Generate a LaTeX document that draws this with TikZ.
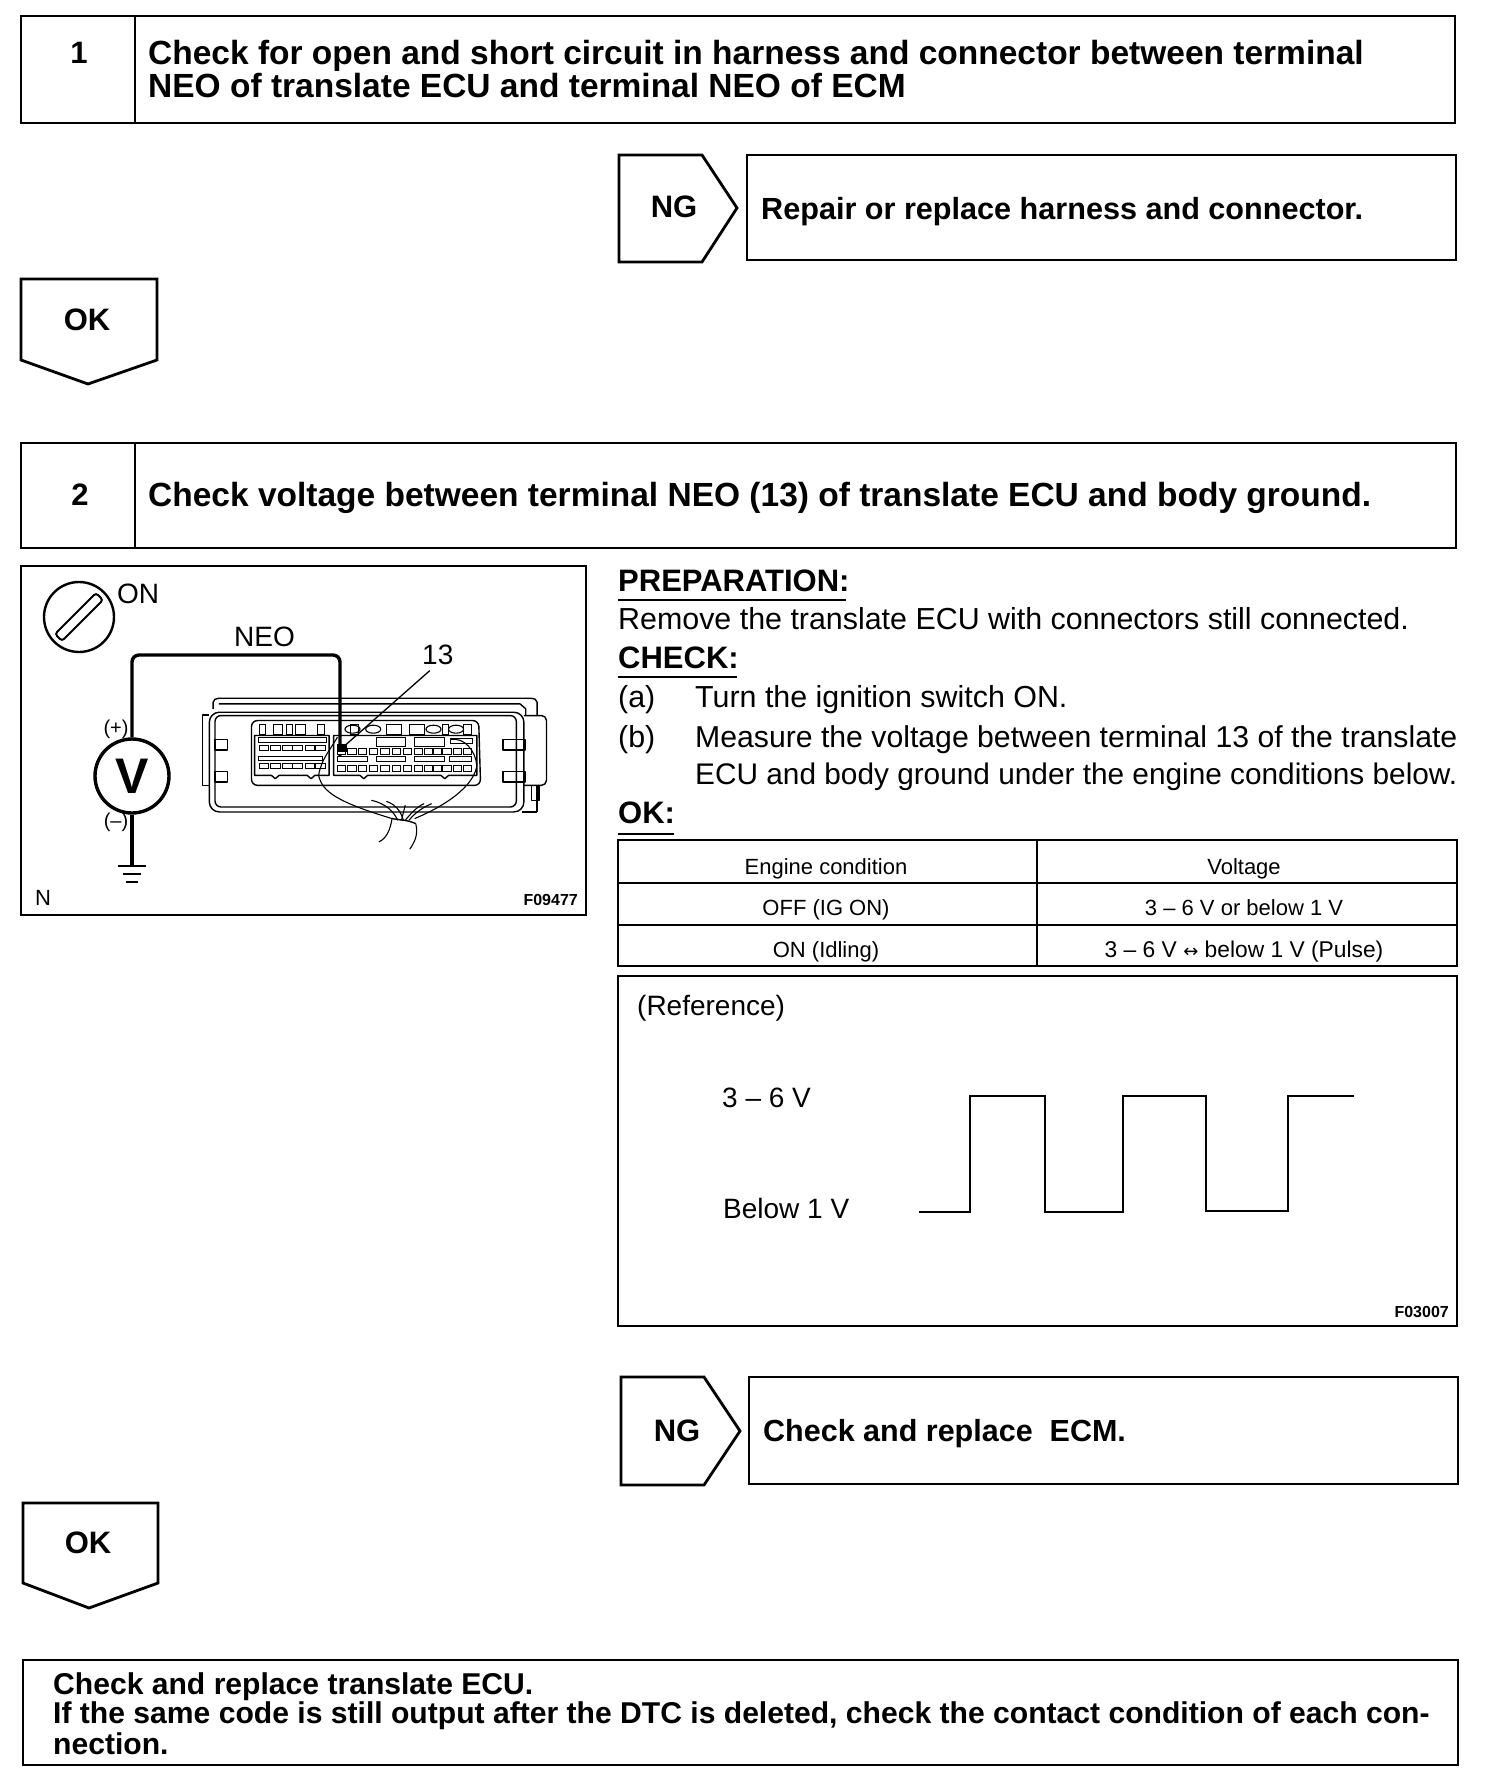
\documentclass[tikz,border=0pt]{standalone}
\usepackage{fontspec}
\setmainfont{Liberation Sans}
\newcommand{\bfs}{\fontsize{31}{31}\selectfont\bfseries}
\newcommand{\hds}{\fontsize{33.5}{33.5}\selectfont\bfseries}
\newcommand{\rgs}{\fontsize{30.4}{30.4}\selectfont}
\newcommand{\sms}{\fontsize{22}{22}\selectfont}
\newcommand{\mds}{\fontsize{28}{28}\selectfont}
\tikzset{
  bx/.style={draw=black,line width=2.8pt,line join=miter},
  bt/.style={anchor=base west,inner sep=0pt,font=\bfs},
  hd/.style={anchor=base west,inner sep=0pt,font=\hds},
  rt/.style={anchor=base west,inner sep=0pt,font=\rgs},
  md/.style={anchor=base west,inner sep=0pt,font=\mds},
  st/.style={anchor=base,inner sep=0pt,font=\sms},
  ul/.style={draw=black,line width=2pt},
  ecu/.style={draw=black,line width=1.4pt,line join=round},
  slot/.style={draw=black,line width=1pt,fill=white},
  wire/.style={draw=black,line width=3.4pt,rounded corners=7pt},
  thin wire/.style={draw=black,line width=1.1pt},
}
\begin{document}
\begin{tikzpicture}[x=1pt,y=-1pt]
\useasboundingbox[fill=white] (0,0) rectangle (1504,1790);
% box 1
\draw[bx] (21,16) rectangle (1455,123);
\draw[bx] (135,16) -- (135,123);
\node[bt,anchor=base] (n1) at (79,64) {1};
\node[hd] (t1a) at (148,65) {Check for open and short circuit in harness and connector between terminal};
\node[hd] (t1b) at (148,98) {NEO of translate ECU and terminal NEO of ECM};
% NG 1
\draw[bx] (619,155) -- (702,155) -- (737,208) -- (702,262) -- (619,262) -- cycle;
\node[bt,anchor=base] (ng1) at (674,218) {NG};
\draw[bx] (747,155) rectangle (1456,260);
\node[bt,font=\fontsize{30.6}{30.6}\selectfont\bfseries] (r1) at (761,219) {Repair or replace harness and connector.};
% OK 1
\draw[bx] (21,279) -- (157,279) -- (157,360) -- (88,384) -- (21,360) -- cycle;
\node[bt,anchor=base] (ok1) at (87,330) {OK};
% box 2
\draw[bx] (21,443) rectangle (1456,548);
\draw[bx] (135,443) -- (135,548);
\node[bt,anchor=base] (n2) at (80,505) {2};
\node[hd] (t2) at (148,506) {Check voltage between terminal NEO (13) of translate ECU and body ground.};
% illustration frame
\draw[bx] (21,566) rectangle (586,915);
\node[md] (on) at (117,603) {ON};
\node[md] (neo) at (234,646) {NEO};
\node[md] (num) at (422,664) {13};
\node[rt,font=\fontsize{22}{22}\selectfont] (nn) at (35,905) {N};
\node[inner sep=0pt,anchor=base east,font=\fontsize{16}{16}\selectfont\bfseries] (f1) at (578,905) {F09477};
% key symbol
\node[draw,circle,line width=2.4pt,minimum size=70pt,inner sep=0pt] (key) at (79,617) {};
\draw[line width=2pt,rotate around={45:(79,617)},rounded corners=3pt] (50,612) rectangle (108,622);
% voltmeter
\node[draw,circle,line width=3.4pt,minimum size=74pt,inner sep=0pt,font=\fontsize{50}{50}\selectfont\bfseries] (vm) at (132,776) {V};
\node[inner sep=0pt,font=\fontsize{20}{20}\selectfont] (plus) at (116,729) {(+)};
\node[inner sep=0pt,font=\fontsize{20}{20}\selectfont] (minus) at (116,822) {(--)};
\coordinate (term) at (340,759);
\draw[wire] (vm.north) -- (132,655) -- (340,655) -- (term);
\coordinate (gnd) at (132,866);
\draw[line width=3.4pt] (vm.south) -- (gnd);
\draw[line width=2.4pt] (118,866) -- (146,866);
\draw[line width=2pt] (123,874) -- (141,874);
\draw[line width=2pt] (126,882) -- (138,882);
% ECU drawing in zoom coordinates
\begin{scope}[shift={(9.7,556)},x=0.3767pt,y=-0.3324pt]
\draw[ecu] (540,460) -- (540,440) to[out=90,in=180] (555,428) -- (1385,428) to[out=0,in=90] (1400,440) -- (1400,480);
\draw[ecu] (555,445) -- (1355,445) -- (1370,460) -- (1370,480);
\draw[ecu,rounded corners=10pt] (530,470) -- (1365,470) -- (1365,770) -- (530,770) -- cycle;
\draw[ecu,rounded corners=6pt] (545,480) -- (1345,480) -- (1345,755) -- (545,755) -- cycle;
\draw[ecu] (530,478) -- (512,478) -- (512,690) -- (530,690);
\draw[ecu] (1400,770) -- (1360,770);
\draw[ecu,rounded corners=5pt] (1365,480) -- (1425,480) -- (1425,690) -- (1365,690);
\draw[ecu] (1400,690) -- (1400,770);
\draw[ecu] (1385,690) rectangle (1405,735);
\foreach \yy in {552,648} {
  \draw[ecu] (545,\yy) rectangle (578,{\yy+32});
  \draw[ecu] (1310,\yy) rectangle (1368,{\yy+32});
}
\draw[ecu,rounded corners=6pt] (642,495) -- (1245,495) -- (1250,690) -- (642,690) -- cycle;
\draw[ecu] (650,540) -- (848,540) -- (848,660) -- (810,660) -- (800,670) -- (790,660) -- (715,660) -- (705,670) -- (695,660) -- (650,660) -- cycle;
\draw[ecu] (860,540) -- (1240,540) -- (1240,660) -- (1165,660) -- (1155,670) -- (1145,660) -- (950,660) -- (940,670) -- (930,660) -- (860,660) -- cycle;
\foreach \xa/\xb in {662/680,700/725,735/750,760/785,818/835,905/925,1000/1040,1060/1100,1150/1165,1205/1225} {
  \draw[slot] (\xa,508) rectangle (\xb,538);
}
\foreach \xx in {910,965,1125,1185} { \draw[line width=1.1pt] (\xx,521) ellipse (20 and 12); }
\foreach \yy in {570,625} {
 \foreach \xx in {662,692,724,752,784,812} { \draw[slot] (\xx,\yy) rectangle ({\xx+26},{\yy+15}); }
}
\draw[slot] (660,546) rectangle (840,560);
\draw[slot] (660,602) rectangle (830,616);
\foreach \xx in {870,898,926,955,985,1015,1045,1075,1100,1125,1150,1178,1205} {
  \draw[slot] (\xx,578) rectangle ({\xx+22},596);
  \draw[slot] (\xx,630) rectangle ({\xx+22},648);
}
\foreach \xa/\xb in {870/950,975/1050,1075/1155,1168/1225} { \draw[slot] (\xa,602) rectangle (\xb,618); }
\foreach \xa/\xb in {975/1050,1075/1155} { \draw[slot] (\xa,545) rectangle (\xb,572); }
\draw[slot] (1170,548) rectangle (1228,565);
\fill (870,565) rectangle (895,590);
\draw[thin wire] (820,660) to[out=80,in=-120] (870,545);
\draw[thin wire] (1170,552) to[out=10,in=95] (1240,630);
\draw[thin wire] (820,660) .. controls (830,710) and (870,740) .. (1015,790);
\draw[thin wire] (1240,630) .. controls (1235,680) and (1180,740) .. (1075,790);
\draw[thin wire] (960,735) .. controls (1000,745) and (1020,770) .. (1030,795);
\draw[thin wire] (1000,738) .. controls (1030,750) and (1040,775) .. (1045,795);
\draw[thin wire] (1050,750) -- (1040,795);
\draw[thin wire] (1120,745) .. controls (1090,760) and (1075,775) .. (1060,795);
\draw[thin wire] (1100,745) .. controls (1080,755) and (1065,775) .. (1050,795);
\draw[line width=1.4pt] (1015,790) .. controls (1040,795) and (1060,795) .. (1078,805);
\draw[thin wire] (1015,790) .. controls (1010,825) and (1000,850) .. (980,860);
\draw[thin wire] (1078,805) .. controls (1085,840) and (1075,860) .. (1062,882);
\coordinate (leadstart) at (1115,345);
\coordinate (leadend) at (880,580);
\draw[line width=1.3pt] (leadstart) -- (leadend);
\end{scope}
% right column
\node[bt] (prep) at (618,591) {PREPARATION:};
\draw[ul] (618,600) -- (846,600);
\node[rt] (rem) at (618,629) {Remove the translate ECU with connectors still connected.};
\node[bt] (chk) at (618,668) {CHECK:};
\draw[ul] (618,677) -- (737,677);
\node[rt] (a1) at (618,707) {(a)};
\node[rt] (a2) at (695,707) {Turn the ignition switch ON.};
\node[rt] (b1) at (618,747) {(b)};
\node[rt,font=\fontsize{30.2}{30.2}\selectfont] (b2) at (695,747) {Measure the voltage between terminal 13 of the translate};
\node[rt,font=\fontsize{29.8}{29.8}\selectfont] (b3) at (695,784) {ECU and body ground under the engine conditions below.};
\node[bt] (okh) at (618,823) {OK:};
\draw[ul] (618,834) -- (674,834);
% table
\draw[bx] (618,840) rectangle (1457,966);
\draw[bx] (618,883) -- (1457,883);
\draw[bx] (618,925) -- (1457,925);
\draw[bx] (1037,840) -- (1037,966);
\node[st] (c11) at (826,874) {Engine condition};
\node[st] (c12) at (1244,874) {Voltage};
\node[st] (c21) at (826,915) {OFF (IG ON)};
\node[st] (c22) at (1244,915) {3 -- 6 V or below 1 V};
\node[st] (c31) at (826,957) {ON (Idling)};
\node[st,font=\fontsize{22.8}{22.8}\selectfont] (c32) at (1244,957) {3 -- 6 V {\fontsize{18}{18}\selectfont\fontspec{DejaVu Sans}↔} below 1 V (Pulse)};
% reference box
\draw[bx] (618,976) rectangle (1457,1326);
\node[md] (ref) at (637,1015) {(Reference)};
\node[md] (hi) at (722,1107) {3 -- 6 V};
\node[md] (lo) at (723,1218) {Below 1 V};
\node[inner sep=0pt,anchor=base east,font=\fontsize{16}{16}\selectfont\bfseries] (f2) at (1449,1317) {F03007};
\draw[line width=2pt] (919,1212) -- (970,1212) -- (970,1096) -- (1045,1096) -- (1045,1212) -- (1123,1212) -- (1123,1096) -- (1206,1096) -- (1206,1211) -- (1288,1211) -- (1288,1096) -- (1354,1096);
% NG 2
\draw[bx] (621,1377) -- (704,1377) -- (740,1431) -- (704,1485) -- (621,1485) -- cycle;
\node[bt,anchor=base] (ng2) at (677,1441) {NG};
\draw[bx] (749,1377) rectangle (1458,1484);
\node[bt,font=\fontsize{30.5}{30.5}\selectfont\bfseries] (r2) at (763,1441) {Check and replace\ \ ECM.};
% OK 2
\draw[bx] (23,1503) -- (158,1503) -- (158,1583) -- (89,1608) -- (23,1583) -- cycle;
\node[bt,anchor=base] (ok2) at (88,1553) {OK};
% final box
\draw[bx] (23,1660) rectangle (1458,1765);
\node[bt,font=\fontsize{30.1}{30.1}\selectfont\bfseries] (e1) at (53,1694) {Check and replace translate ECU.};
\node[bt,font=\fontsize{30.1}{30.1}\selectfont\bfseries] (e2) at (53,1723) {If the same code is still output after the DTC is deleted, check the contact condition of each con-};
\node[bt,font=\fontsize{30.1}{30.1}\selectfont\bfseries] (e3) at (53,1754) {nection.};
\end{tikzpicture}
\end{document}
